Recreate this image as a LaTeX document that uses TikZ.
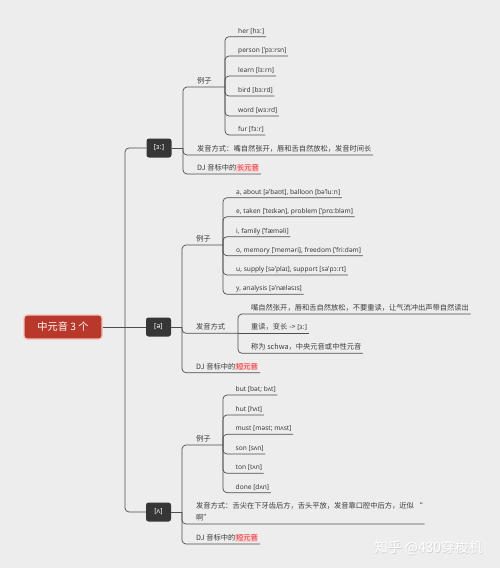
\documentclass[tikz,border=0pt]{standalone}
\usepackage{fontspec}
\setmainfont{Noto Sans}
\newfontfamily\cjk[Scale=1.1]{Noto Sans CJK SC}
\definecolor{bg}{HTML}{EDEDED}
\definecolor{ink}{HTML}{3A3A3A}
\definecolor{wire}{HTML}{4E4E4E}
\definecolor{rootred}{HTML}{B8392C}
\definecolor{rootrim}{HTML}{F2C4B8}
\definecolor{boxdark}{HTML}{363636}
\definecolor{hlred}{HTML}{E0282E}
\definecolor{hlpink}{HTML}{F8D0D0}
\newcommand{\hlvowel}[1]{{\setlength{\fboxsep}{0.6pt}\colorbox{hlpink}{\textcolor{hlred}{#1}}}}
\tikzset{%
    conn/.style={draw=wire, line width=0.7pt, rounded corners=4pt},
    topic/.style={anchor=south west, inner xsep=1.5pt, inner ysep=1.6pt,
        text height=5pt, text depth=1.6pt, text=ink,
        font=\fontsize{6.6}{8}\selectfont},
    vowel/.style={fill=boxdark, rounded corners=2.5pt, text=white,
        minimum width=25pt, minimum height=19pt, inner sep=0pt,
        font=\fontsize{7}{8}\selectfont},
    rootbox/.style={fill=rootred, draw=rootrim, line width=1.2pt,
        rounded corners=3pt, text=white, minimum width=78pt,
        minimum height=24pt, font=\cjk\fontsize{9.3}{10}\selectfont}
}

\begin{document}
\begin{tikzpicture}[x=1pt,y=-1pt]
\fill[bg] (0,0) rectangle (500,568);
\useasboundingbox (0,0) rectangle (500,568);

% root and the three vowels
\node[rootbox] (root) at (63,327) {中元音 3 个};
\node[vowel] (er) at (159,148) {[ɜː]};
\node[vowel] (schwa) at (158.5,327) {[ə]};
\node[vowel] (wedge) at (158.5,512) {[ʌ]};
\coordinate (hub) at (125,327);
\draw[conn] (root.east) -- (schwa.west);
\draw[conn] (hub) |- (er.west);
\draw[conn] (hub) |- (wedge.west);

% [er]
\coordinate (erhub) at (183,148);
\coordinate (erex) at (225,87);
\draw[conn] (er.east) -- (erhub);
\node[topic] (erexlab) at (195.5,87) {\cjk 例子};
\draw[conn] (erhub) |- (erex);
\node[topic] (her) at (236.5,36.7) {her [hɜː]};
\node[topic] (person) at (236.5,56) {person [ˈpɜːrsn]};
\node[topic] (learn) at (236.5,76) {learn [lɜːrn]};
\node[topic] (bird) at (236.5,96) {bird [bɜːrd]};
\node[topic] (word) at (236.5,116) {word [wɜːrd]};
\node[topic] (fur) at (236.5,135) {fur [fɜːr]};
\draw[conn] (erex) |- (her.south east);
\draw[conn] (erex) |- (person.south east);
\draw[conn] (erex) |- (learn.south east);
\draw[conn] (erex) |- (bird.south east);
\draw[conn] (erex) |- (word.south east);
\draw[conn] (erex) |- (fur.south east);
\node[topic] (erhow) at (195.5,155) {\cjk 发音方式：嘴自然张开，唇和舌自然放松，发音时间长};
\node[topic] (erdj) at (195.5,174) {\cjk DJ 音标中的\hlvowel{长元音}};
\draw[conn] (erhub) |- (erhow.south east);
\draw[conn] (erhub) |- (erdj.south east);

% [schwa]
\coordinate (schwahub) at (182,327);
\coordinate (schwaex) at (223,245);
\coordinate (schwahowj) at (238,333.3);
\draw[conn] (schwa.east) -- (schwahub);
\node[topic] (schwaexlab) at (194.5,245) {\cjk 例子};
\draw[conn] (schwahub) |- (schwaex);
\node[topic] (sa) at (234.5,197.7) {a, about [əˈbaʊt], balloon [bəˈluːn]};
\node[topic] (se) at (234.5,216.7) {e, taken [ˈteɪkən], problem [ˈprɑːbləm]};
\node[topic] (si) at (234.5,236.7) {i, family [ˈfæməli]};
\node[topic] (so) at (234.5,255.7) {o, memory [ˈmeməri], freedom [ˈfriːdəm]};
\node[topic] (su) at (234.5,275) {u, supply [səˈplaɪ], support [səˈpɔːrt]};
\node[topic] (sy) at (234.5,294.3) {y, analysis [əˈnæləsɪs]};
\draw[conn] (schwaex) |- (sa.south east);
\draw[conn] (schwaex) |- (se.south east);
\draw[conn] (schwaex) |- (si.south east);
\draw[conn] (schwaex) |- (so.south east);
\draw[conn] (schwaex) |- (su.south east);
\draw[conn] (schwaex) |- (sy.south east);
\node[topic] (schwahow) at (194.5,333.3) {\cjk 发音方式};
\draw[conn] (schwahub) |- (schwahowj);
\node[topic] (relax) at (249.5,314) {\cjk 嘴自然张开，唇和舌自然放松，不要重读，让气流冲出声带自然读出};
\node[topic] (stress) at (249.5,333.3) {\cjk 重读，变长 -> \rmfamily[ɜː]};
\node[topic] (central) at (249.5,353.3) {\cjk 称为 schwa，中央元音或中性元音};
\draw[conn] (schwahowj) |- (relax.south east);
\draw[conn] (schwahowj) -- (stress.south east);
\draw[conn] (schwahowj) |- (central.south east);
\node[topic] (schwadj) at (194.5,372.7) {\cjk DJ 音标中的\hlvowel{短元音}};
\draw[conn] (schwahub) |- (schwadj.south east);

% [wedge]
\coordinate (wedgehub) at (182,512);
\coordinate (wedgeex) at (223,445);
\draw[conn] (wedge.east) -- (wedgehub);
\node[topic] (wedgeexlab) at (194.5,445) {\cjk 例子};
\draw[conn] (wedgehub) |- (wedgeex);
\node[topic] (but) at (234,395) {but [bət; bʌt]};
\node[topic] (hut) at (234,415) {hut [hʌt]};
\node[topic] (must) at (234,434.3) {must [məst; mʌst]};
\node[topic] (son) at (234,454) {son [sʌn]};
\node[topic] (ton) at (234,473.3) {ton [tʌn]};
\node[topic] (done) at (234,492.7) {done [dʌn]};
\draw[conn] (wedgeex) |- (but.south east);
\draw[conn] (wedgeex) |- (hut.south east);
\draw[conn] (wedgeex) |- (must.south east);
\draw[conn] (wedgeex) |- (son.south east);
\draw[conn] (wedgeex) |- (ton.south east);
\draw[conn] (wedgeex) |- (done.south east);
\node[topic, align=left, font=\fontsize{6.6}{11.7}\selectfont] (wedgehow) at (194.5,524)
    {\cjk 发音方式：舌尖在下牙齿后方，舌头平放，发音靠口腔中后方，近似 “\\\cjk 啊”};
\node[topic] (wedgedj) at (194.5,544) {\cjk DJ 音标中的\hlvowel{短元音}};
\draw[conn] (wedgehub) |- (wedgehow.south east);
\draw[conn] (wedgehub) |- (wedgedj.south east);

% watermark
\node[text=black!18, font=\cjk\fontsize{12.6}{14}\selectfont] (wmshade) at (429,548.7) {知乎 @430穿梭机};
\node[text=white, font=\cjk\fontsize{12.6}{14}\selectfont] (wm) at (428.4,548) {知乎 @430穿梭机};
\end{tikzpicture}
\end{document}
